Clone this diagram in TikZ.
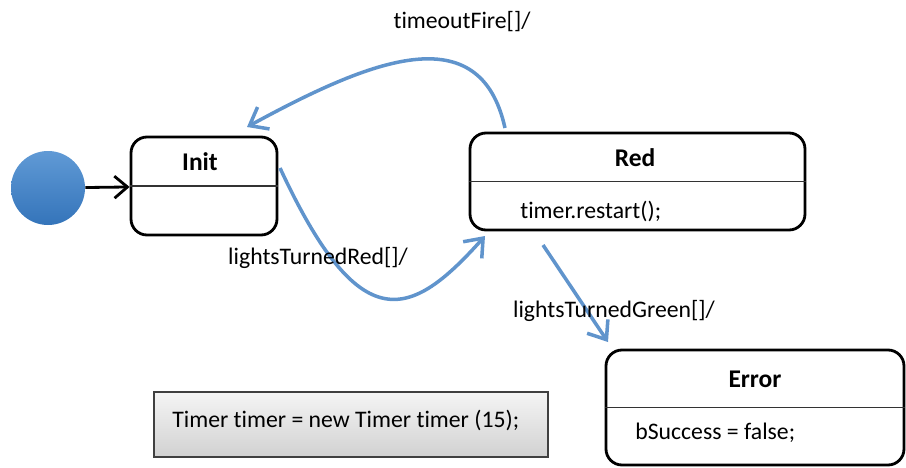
\documentclass[tikz,border=0pt]{standalone}
\usepackage{fontspec}
\setmainfont[Ligatures=NoCommon]{Carlito}
\usetikzlibrary{arrows.meta}
\definecolor{flowblue}{RGB}{96,148,204}
\definecolor{dotblue}{RGB}{68,136,206}
\definecolor{dotdark}{RGB}{52,116,186}
\tikzset{
  state/.style={draw=black,line width=1.6pt,rounded corners=0.32cm,fill=white},
  divider/.style={draw=black!80,line width=0.7pt},
  flow/.style={draw=flowblue,line width=2pt,-{Straight Barb[length=3.2mm,width=5mm]}},
  txt/.style={font=\fontsize{13.5}{16}\selectfont,inner sep=0pt},
  title/.style={font=\fontsize{14.5}{17}\selectfont\bfseries,inner sep=0pt}
}
\begin{document}
\begin{tikzpicture}
\useasboundingbox (0,0) rectangle (18.12,9.34);
% states
\node [state,minimum width=2.92cm,minimum height=1.96cm] (init) at (4.08,5.62) {};
\node [state,minimum width=6.70cm,minimum height=1.94cm] (red) at (12.75,5.71) {};
\node [state,minimum width=5.96cm,minimum height=2.30cm] (error) at (15.10,1.19) {};
\draw [divider] (init.west) -- (init.east);
\draw [divider] (red.west) -- (red.east);
\draw [divider] (error.west) -- (error.east);
\node [title] (initname) at (4.00,6.11) {Init};
\node [title] (redname) at (12.70,6.18) {Red};
\node [title] (errorname) at (15.10,1.76) {Error};
\node [txt,anchor=west] (redbody) at (10.40,5.12) {timer.restart();};
\node [txt,anchor=west] (errorbody) at (12.70,0.68) {bSuccess = false;};
% initial state
\node [circle,minimum size=1.48cm,inner sep=0pt,top color=dotblue!85!white,bottom color=dotdark] (start) at (0.96,5.58) {};
\draw [line width=1.6pt,-{Straight Barb[length=2.6mm,width=4.4mm]}] (start) -- (init);
% variable box
\node [draw=black!75,line width=0.8pt,top color=black!4,bottom color=black!18,minimum width=7.88cm,minimum height=1.30cm] (decl) at (7.02,0.85) {};
\node [txt,anchor=west] (decltext) at (3.44,0.94) {Timer timer = new Timer timer (15);};
% transitions
\coordinate (fireout) at (10.10,6.78);
\coordinate (firein) at (4.94,6.80);
\coordinate (redout) at (5.60,5.98);
\coordinate (redin) at (9.70,4.62);
\coordinate (greenout) at (10.86,4.44);
\coordinate (greenin) at (12.16,2.50);
\draw [flow] (fireout) .. controls (9.60,9.04) and (7.40,8.14) .. (firein);
\draw [flow] (redout) .. controls (7.20,2.54) and (8.20,2.94) .. (redin);
\draw [flow] (greenout) -- (greenin);
\node [txt] (firelabel) at (9.24,8.90) {timeoutFire[]/};
\node [txt] (redlabel) at (6.36,4.18) {lightsTurnedRed[]/};
\node [txt] (greenlabel) at (12.28,3.12) {lightsTurnedGreen[]/};
\end{tikzpicture}
\end{document}
